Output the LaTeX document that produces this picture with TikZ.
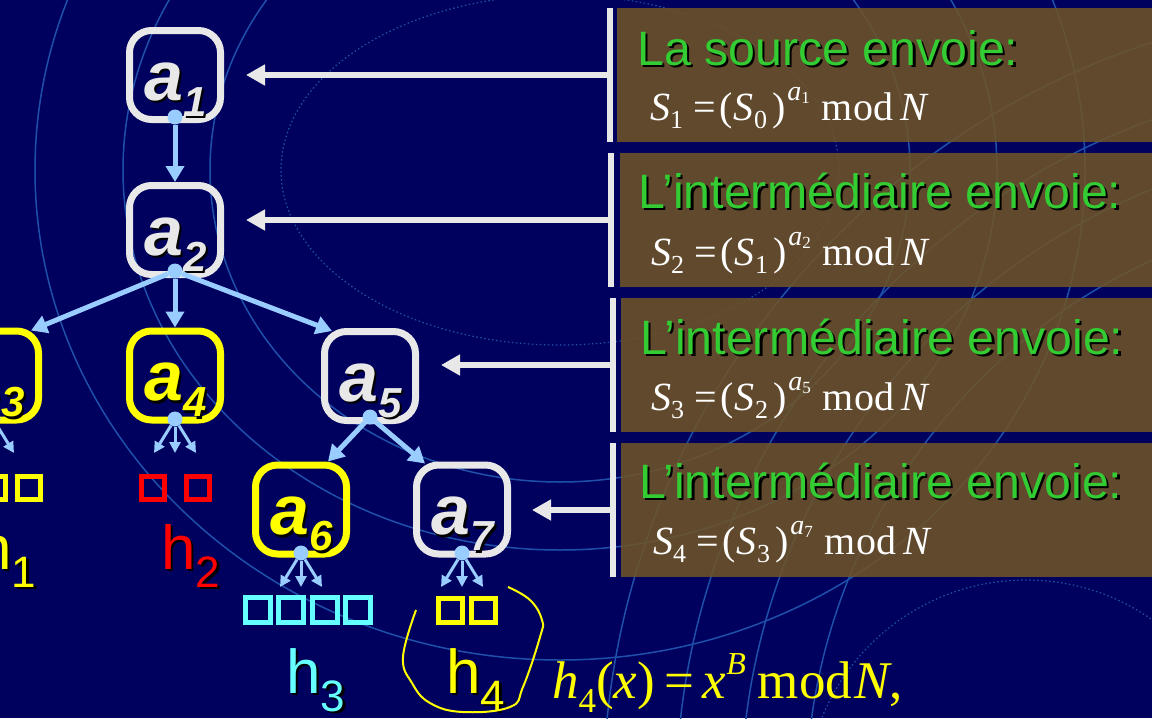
\documentclass[tikz,border=0pt]{standalone}
\usepackage{fontspec}
\setmainfont{Liberation Sans}
\newfontfamily\tms{Liberation Serif}
\usetikzlibrary{arrows.meta,calc}
\definecolor{bgc}{RGB}{0,0,94}
\definecolor{arcc}{RGB}{30,80,170}
\definecolor{wc}{RGB}{232,232,232}
\definecolor{yc}{RGB}{255,255,0}
\definecolor{lb}{RGB}{153,204,255}
\definecolor{rc}{RGB}{255,0,0}
\definecolor{cc}{RGB}{102,255,255}
\definecolor{gc}{RGB}{51,204,51}
\definecolor{pc}{RGB}{110,84,38}
\newcommand\albl[1]{\fontsize{70}{70}\selectfont\bfseries\itshape a\raisebox{-16pt}{\fontsize{42}{42}\selectfont #1}}
\newcommand\hlbl[1]{\fontsize{62}{62}\selectfont h\raisebox{-18pt}{\fontsize{44}{44}\selectfont #1}}
\newcommand\sfrm[3]{{\tms\fontsize{40}{40}\selectfont\textit{S}\raisebox{-8pt}{\fontsize{26}{26}\selectfont #1}\hspace{10pt}=\hspace{4pt}(\textit{S}\hspace{1pt}\raisebox{-8pt}{\fontsize{26}{26}\selectfont #2}\hspace{5pt})\hspace{2pt}\raisebox{20pt}{\fontsize{28}{28}\selectfont\textit{a}\raisebox{-3pt}{\fontsize{17}{17}\selectfont #3}}\hspace{12pt}mod\hspace{7pt}\textit{N}}}
\newcommand\alab[3]{%
  \node[anchor=base west, inner sep=0pt, text=black] (#1s) at ($(#1.center)+(-28.5,27.5)$) {\albl{#2}};
  \node[anchor=base west, inner sep=0pt, text=#3] (#1t) at ($(#1.center)+(-31,25)$) {\albl{#2}};}
\begin{document}
\begin{tikzpicture}[x=1pt,y=-1pt,
  arcln/.style={draw=arcc, line width=1.5pt},
  box/.style={draw, line width=7pt, rounded corners=22pt, minimum width=91pt, minimum height=89pt, inner sep=0pt},
  boxw/.style={box, draw=wc},
  boxy/.style={box, draw=yc},
  barrow/.style={draw=lb, line width=5pt, -{Triangle[length=16pt,width=18pt]}},
  fan/.style={draw=lb, line width=3pt, -{Triangle[length=11pt,width=11pt]}},
  warrow/.style={draw=wc, line width=6pt, -{Triangle[length=19pt,width=20pt]}},
  dotst/.style={circle, fill=lb, inner sep=0pt, minimum size=15pt},
  sq/.style={draw, line width=5pt, minimum size=23pt, inner sep=0pt},
  sqc/.style={draw=cc, line width=5pt, minimum size=25pt, inner sep=0pt},
  panel/.style={fill=pc, fill opacity=0.88, draw=none, minimum width=540pt, minimum height=134pt, anchor=north west, inner sep=0pt},
  wbar/.style={fill=wc, draw=none, minimum width=6pt, minimum height=134pt, anchor=north west, inner sep=0pt},
  gtxt/.style={anchor=base west, inner sep=0pt, font=\fontsize{48.3}{48.3}\selectfont},
  ftxt/.style={anchor=base west, inner sep=0pt, text=white},
  htxt/.style={anchor=base west, inner sep=0pt}
]
\clip (0,0) rectangle (1152,718);
\fill[bgc] (0,0) rectangle (1152,718);
% background decoration
\draw[arcln] (560,170) ellipse [x radius=525, y radius=490];
\draw[arcln] (560,170) ellipse [x radius=437, y radius=380];
\draw[arcln] (560,170) ellipse [x radius=350, y radius=312];
\draw[arcln, line width=1.2pt, dash pattern=on 1.5pt off 2.5pt] (560,170) ellipse [x radius=279, y radius=175];
\draw[arcln] (1400,800) circle [radius=797];
\draw[arcln] (1400,800) circle [radius=724];
\draw[arcln] (1400,800) circle [radius=659];
\draw[arcln] (1400,800) circle [radius=594];
\draw[arcln, line width=1.2pt, dash pattern=on 1.5pt off 2.5pt] (1026,800) circle [radius=220];
% panels
\node[panel] (p1) at (617,8) {};
\node[panel] (p2) at (620,153) {};
\node[panel] (p3) at (621,298) {};
\node[panel] (p4) at (621,443) {};
\node[wbar] (bar1) at (607,8) {};
\node[wbar] (bar2) at (608,153) {};
\node[wbar] (bar3) at (610,298) {};
\node[wbar] (bar4) at (610,443) {};
% panel texts
\node[gtxt, text=black] (g1s) at (639.5,67.5) {La source envoie:};
\node[gtxt, text=gc] (g1) at (637,65) {La source envoie:};
\node[gtxt, text=black] (g2s) at (640.5,210.5) {L’intermédiaire envoie:};
\node[gtxt, text=gc] (g2) at (638,208) {L’intermédiaire envoie:};
\node[gtxt, text=black] (g3s) at (642.5,356.5) {L’intermédiaire envoie:};
\node[gtxt, text=gc] (g3) at (640,354) {L’intermédiaire envoie:};
\node[gtxt, text=black] (g4s) at (641.5,500.5) {L’intermédiaire envoie:};
\node[gtxt, text=gc] (g4) at (639,498) {L’intermédiaire envoie:};
\node[ftxt] (e1) at (650,120) {\sfrm{1}{0}{1}};
\node[ftxt] (e2) at (651,265) {\sfrm{2}{1}{2}};
\node[ftxt] (e3) at (651,410) {\sfrm{3}{2}{5}};
\node[ftxt] (e4) at (653,554) {\sfrm{4}{3}{7}};
% tree nodes
\node[boxw] (a1) at (175,75) {};
\node[boxw] (a2) at (175,230) {};
\node[boxy] (a3) at (-7,375.5) {};
\node[boxy] (a4) at (175,375.5) {};
\node[boxw] (a5) at (370,376) {};
\node[boxy] (a6) at (301,509.5) {};
\node[boxw] (a7) at (462,509.5) {};
\alab{a1}{1}{wc}
\alab{a2}{2}{wc}
\alab{a3}{3}{yc}
\alab{a4}{4}{yc}
\alab{a5}{5}{wc}
\alab{a6}{6}{yc}
\alab{a7}{7}{wc}
% dots
\node[dotst] (d1) at (175,117) {};
\node[dotst] (d2) at (175,271) {};
\node[dotst] (d3) at (-7,419) {};
\node[dotst] (d4) at (175,419) {};
\node[dotst] (d5) at (370,417) {};
\node[dotst] (d6) at (301,553) {};
\node[dotst] (d7) at (462,553) {};
% blue connectors
\draw[barrow] (d1) -- (a2.north);
\draw[barrow] (d2) -- ($(a3.north east)+(-11,3)$);
\draw[barrow] (d2) -- (a4.north);
\draw[barrow] (d2) -- ($(a5.north west)+(11,3)$);
\draw[barrow] (d5) -- ($(a6.north east)+(-22,0)$);
\draw[barrow] (d5) -- ($(a7.north west)+(12,2)$);
\foreach \d in {d3,d4,d6,d7}{
  \draw[fan] (\d) -- ($(\d)+(-21,34)$);
  \draw[fan] (\d) -- ($(\d)+(0,34)$);
  \draw[fan] (\d) -- ($(\d)+(21,34)$);
}
% white connectors
\coordinate (y1) at (0,75);
\coordinate (y2) at (0,220);
\coordinate (y3) at (0,365);
\coordinate (y4) at (0,510);
\draw[warrow, shorten >=22pt] (bar1.west |- y1) -- (a1.east |- y1);
\draw[warrow, shorten >=22pt] (bar2.west |- y2) -- (a2.east |- y2);
\draw[warrow, shorten >=22pt] (bar3.west |- y3) -- (a5.east |- y3);
\draw[warrow, shorten >=21pt] (bar4.west |- y4) -- (a7.east |- y4);
% squares
\node[sq, draw=yc] (q1a) at (-6,487.5) {};
\node[sq, draw=yc] (q1b) at (29,487.5) {};
\node[sq, draw=rc] (q2a) at (152.5,487.5) {};
\node[sq, draw=rc] (q2b) at (198,487.5) {};
\node[sqc] (q3a) at (257.5,610) {};
\node[sqc] (q3b) at (291,610) {};
\node[sqc] (q3c) at (324.5,610) {};
\node[sqc] (q3d) at (358,610) {};
\node[sq, draw=yc, minimum size=24pt] (q4a) at (450.5,610) {};
\node[sq, draw=yc, minimum size=24pt] (q4b) at (483.5,610) {};
% h labels
\node[htxt, text=black] (h1s) at (-20.5,571.5) {\hlbl{1}};
\node[htxt, text=yc] (h1) at (-23,569) {\hlbl{1}};
\node[htxt, text=black] (h2s) at (163.5,571.5) {\hlbl{2}};
\node[htxt, text=rc] (h2) at (161,569) {\hlbl{2}};
\node[htxt, text=black] (h3s) at (288.5,695.5) {\hlbl{3}};
\node[htxt, text=cc] (h3) at (286,693) {\hlbl{3}};
\node[htxt, text=black] (h4s) at (448.5,695.5) {\hlbl{4}};
\node[htxt, text=yc] (h4) at (446,693) {\hlbl{4}};
% hand-drawn loop
\draw[yc, line width=2pt] plot[smooth, tension=0.7] coordinates {(416,610) (403,657) (412,683) (430,703) (463,712) (510,707) (523,687) (540,637) (542,620) (530,600) (508,587)};
% bottom formula
\node[htxt, text=yc] (hf) at (552,698) {\tms\fontsize{53}{53}\selectfont\textit{h}\raisebox{-14pt}{\fontsize{35}{35}\selectfont 4}(\textit{x})\hspace{10pt}=\hspace{8pt}\textit{x}\raisebox{24pt}{\fontsize{32}{32}\selectfont\textit{B}}\hspace{12pt}mod\hspace{2pt}\textit{N},};
\end{tikzpicture}
\end{document}
